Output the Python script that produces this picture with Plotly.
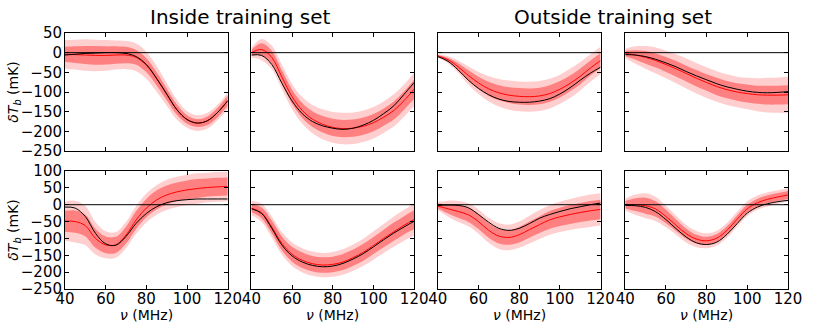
import plotly.graph_objects as go
from plotly.subplots import make_subplots

# frequência (MHz) — pontos lidos a cada 5 MHz
NU = [40, 45, 50, 55, 60, 65, 70, 75, 80, 85, 90, 95, 100, 105, 110, 115, 120]

# painel 1 (dentro, linha de cima)
VERDADE_1 = [-6, -4, -2, -1, 0, 0, -2, -10, -30, -65, -105, -145, -170, -179, -173, -152, -122]
MEDIA_1 = [-4, -5, -6, -7, -7, -6, -6, -12, -32, -66, -106, -145, -170, -179, -173, -152, -122]
SIG1_1 = [19, 21, 23, 24, 23, 22, 21, 19, 18, 17, 15, 13, 11, 10, 11, 12, 13]
SIG2_1 = [36, 38, 40, 40, 39, 37, 36, 35, 34, 33, 29, 25, 21, 20, 20, 20, 21]

# painel 2
VERDADE_2 = [-6, -7, -30, -78, -123, -155, -175, -186, -192, -195, -192, -184, -172, -155, -135, -106, -76]
MEDIA_2 = [0, 8, -12, -62, -112, -147, -169, -182, -190, -193, -192, -187, -178, -164, -147, -122, -93]
SIG1_2 = [7, 16, 17, 17, 18, 19, 20, 21, 22, 22, 22, 22, 22, 22, 23, 23, 24]
SIG2_2 = [12, 27, 30, 31, 32, 34, 36, 38, 39, 40, 40, 40, 40, 40, 41, 41, 42]

# painel 3 (fora, linha de cima)
VERDADE_3 = [-10, -22, -44, -70, -91, -107, -118, -124, -126, -126, -123, -117, -105, -89, -70, -52, -37]
MEDIA_3 = [-8, -18, -36, -58, -77, -92, -102, -108, -111, -112, -110, -104, -93, -78, -60, -39, -20]
SIG1_3 = [2, 5, 9, 13, 16, 18, 19, 20, 21, 21, 21, 21, 21, 20, 20, 19, 19]
SIG2_3 = [4, 9, 16, 23, 28, 32, 35, 37, 38, 38, 38, 38, 37, 37, 36, 35, 35]

# painel 4
VERDADE_4 = [-5, -6, -10, -17, -26, -36, -48, -59, -69, -79, -87, -93, -98, -101, -102, -101, -99]
MEDIA_4 = [-2, -6, -12, -20, -30, -41, -53, -65, -76, -86, -94, -100, -104, -107, -108, -108, -107]
SIG1_4 = [7, 12, 16, 18, 19, 20, 20, 21, 21, 22, 22, 22, 23, 23, 24, 24, 24]
SIG2_4 = [12, 22, 29, 33, 35, 37, 38, 39, 39, 39, 39, 39, 40, 42, 44, 45, 46]

# painel 5 (dentro, linha de baixo)
VERDADE_5 = [-7, -10, -35, -85, -116, -120, -94, -55, -26, -6, 6, 12, 15, 17, 17, 17, 17]
MEDIA_5 = [-49, -50, -62, -100, -119, -119, -90, -45, -10, 14, 29, 38, 44, 48, 51, 53, 54]
SIG1_5 = [31, 33, 32, 28, 25, 24, 25, 26, 27, 28, 28, 28, 28, 28, 27, 27, 27]
SIG2_5 = [58, 62, 58, 48, 40, 38, 39, 41, 43, 44, 45, 45, 45, 45, 44, 44, 44]

# painel 6
VERDADE_6 = [-12, -26, -70, -120, -152, -170, -180, -184, -182, -174, -161, -145, -125, -104, -84, -66, -49]
MEDIA_6 = [-10, -24, -66, -115, -147, -165, -175, -179, -177, -170, -157, -141, -121, -100, -80, -61, -44]
SIG1_6 = [12, 16, 19, 21, 22, 23, 23, 23, 23, 24, 24, 25, 25, 26, 27, 27, 28]
SIG2_6 = [21, 27, 31, 33, 35, 36, 36, 36, 37, 38, 39, 40, 42, 43, 45, 46, 47]

# painel 7 (fora, linha de baixo)
VERDADE_7 = [-2, -1, -2, -9, -29, -52, -70, -76, -70, -56, -40, -29, -20, -12, -6, 0, 5]
MEDIA_7 = [-4, -12, -20, -30, -50, -76, -93, -97, -89, -74, -59, -45, -36, -29, -23, -18, -14]
SIG1_7 = [7, 14, 19, 21, 22, 22, 22, 22, 23, 24, 25, 26, 27, 28, 28, 29, 29]
SIG2_7 = [12, 24, 31, 34, 36, 37, 38, 38, 39, 41, 43, 44, 45, 46, 47, 48, 48]

# painel 8
VERDADE_8 = [-2, -3, -8, -21, -44, -71, -96, -113, -118, -111, -88, -56, -25, -7, 3, 9, 13]
MEDIA_8 = [0, 0, -3, -13, -35, -61, -86, -102, -107, -99, -76, -43, -12, 6, 16, 23, 29]
SIG1_8 = [11, 19, 24, 23, 20, 17, 15, 13, 12, 12, 12, 12, 12, 12, 12, 12, 12]
SIG2_8 = [18, 30, 37, 36, 32, 28, 26, 24, 22, 22, 22, 22, 22, 21, 21, 20, 20]

PAINEIS = [
    (VERDADE_1, MEDIA_1, SIG1_1, SIG2_1), (VERDADE_2, MEDIA_2, SIG1_2, SIG2_2),
    (VERDADE_3, MEDIA_3, SIG1_3, SIG2_3), (VERDADE_4, MEDIA_4, SIG1_4, SIG2_4),
    (VERDADE_5, MEDIA_5, SIG1_5, SIG2_5), (VERDADE_6, MEDIA_6, SIG1_6, SIG2_6),
    (VERDADE_7, MEDIA_7, SIG1_7, SIG2_7), (VERDADE_8, MEDIA_8, SIG1_8, SIG2_8),
]

TITULOS = ["Inside training set", "Outside training set"]
X_TICKS = [40, 60, 80, 100, 120]
Y_TICKS_TOPO = [50, 0, -50, -100, -150, -200, -250]
Y_TICKS_BAIXO = [100, 50, 0, -50, -100, -150, -200, -250]

COR_CLARA = "#ffcfcf"
COR_ESCURA = "#ff8080"
FONTE = "DejaVu Sans"

W, H = 814, 326
ML, MR, MT, MB = 65, 16, 33, 37
PW, PH = W - ML - MR, H - MT - MB
COLS_PX = [(65, 230), (254, 419), (443, 608), (633, 798)]
ROWS_PX = [(33, 151), (171, 289)]


def fx(px):
    return (px - ML) / PW


def fy(py):
    return 1 - (py - MT) / PH


fig = make_subplots(rows=2, cols=4)


def banda(lo, hi, cor, r, c):
    fig.add_scatter(x=NU, y=hi, mode="lines", line=dict(width=0, shape="spline"),
                    hoverinfo="skip", showlegend=False, row=r, col=c)
    fig.add_scatter(x=NU, y=lo, mode="lines", line=dict(width=0, shape="spline"),
                    fill="tonexty", fillcolor=cor, hoverinfo="skip",
                    showlegend=False, row=r, col=c)


for i, (verdade, media, s1, s2) in enumerate(PAINEIS):
    r, c = i // 4 + 1, i % 4 + 1
    banda([m - s for m, s in zip(media, s2)], [m + s for m, s in zip(media, s2)], COR_CLARA, r, c)
    banda([m - s for m, s in zip(media, s1)], [m + s for m, s in zip(media, s1)], COR_ESCURA, r, c)
    fig.add_scatter(x=NU, y=media, mode="lines", line=dict(color="#ff0000", width=1, shape="spline"),
                    showlegend=False, row=r, col=c)
    fig.add_scatter(x=NU, y=verdade, mode="lines", line=dict(color="#000000", width=1, shape="spline"),
                    showlegend=False, row=r, col=c)
    fig.add_hline(y=0, line=dict(color="black", width=1), row=r, col=c)

eixo = dict(showline=True, linecolor="black", linewidth=1, mirror="ticks",
            ticks="inside", ticklen=4, tickcolor="black", showgrid=False, zeroline=False,
            tickfont=dict(family=FONTE, size=15, color="black"))

for i in range(8):
    r, c = i // 4 + 1, i % 4 + 1
    x0, x1 = COLS_PX[c - 1]
    y0, y1 = ROWS_PX[r - 1]
    fig.update_xaxes(eixo, domain=[fx(x0), fx(x1)], range=[40, 120], tickvals=X_TICKS,
                     showticklabels=(r == 2), ticklabelstandoff=-4, row=r, col=c)
    fig.update_yaxes(eixo, domain=[fy(y1), fy(y0)],
                     range=[-250, 50] if r == 1 else [-250, 100],
                     tickvals=Y_TICKS_TOPO if r == 1 else Y_TICKS_BAIXO,
                     showticklabels=(c == 1), ticklabelstandoff=-1, row=r, col=c)

anot = []
for k, titulo in enumerate(TITULOS):
    xa = (COLS_PX[2 * k][0] + COLS_PX[2 * k + 1][1]) / 2
    anot.append(dict(text=titulo, x=fx(xa), y=fy(17), xref="paper", yref="paper",
                     showarrow=False, xanchor="center", yanchor="middle",
                     font=dict(family=FONTE, size=20, color="black")))
for y0, y1 in ROWS_PX:
    anot.append(dict(text="<i>δT</i><sub><i>b</i></sub> (mK)", x=fx(13), y=fy((y0 + y1) / 2),
                     xref="paper", yref="paper", showarrow=False, textangle=-90,
                     xanchor="center", yanchor="middle",
                     font=dict(family=FONTE, size=14, color="black")))
for x0, x1 in COLS_PX:
    anot.append(dict(text="<i>ν</i> (MHz)", x=fx((x0 + x1) / 2), y=fy(315),
                     xref="paper", yref="paper", showarrow=False,
                     xanchor="center", yanchor="middle",
                     font=dict(family=FONTE, size=14, color="black")))

fig.update_layout(width=W, height=H, margin=dict(l=ML, r=MR, t=MT, b=MB),
                  paper_bgcolor="white", plot_bgcolor="white",
                  font=dict(family=FONTE, color="black"), annotations=anot)

# a página padrão tem margem de 8px no body; zera para a figura ocupar a janela toda
fig.write_html("out.html", config={"displayModeBar": False},
               post_script="document.body.style.margin='0';")
